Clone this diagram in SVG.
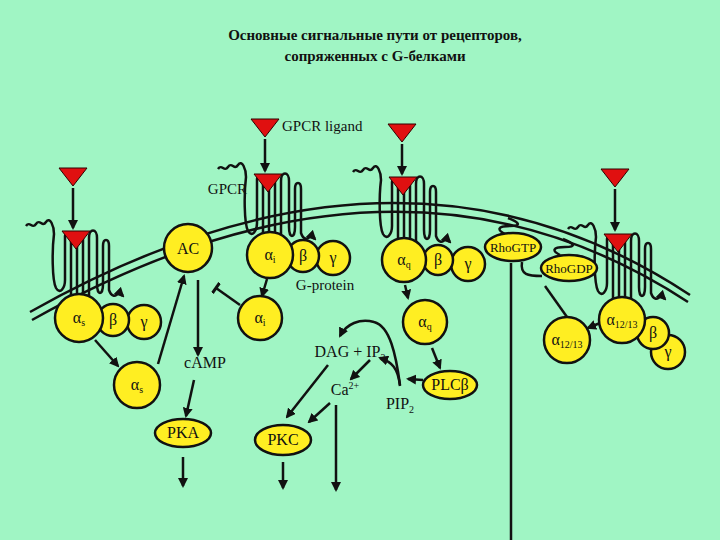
<svg xmlns="http://www.w3.org/2000/svg" width="720" height="540" viewBox="0 0 720 540" font-family="'Liberation Serif','Times New Roman',serif">
<style>
text{font-family:'Liberation Serif','Times New Roman',serif;fill:#111}
.t{font-size:15px;font-weight:bold}
.n{fill:#ffee22;stroke:#111;stroke-width:2.5}
.l{fill:none;stroke:#111;stroke-width:2.5}
.a{fill:none;stroke:#111;stroke-width:2.5;marker-end:url(#ah)}
.tri{fill:#e01010;stroke:#330000;stroke-width:1}
.lb{font-size:16px;text-anchor:middle}
.sb{font-size:10px}
</style>
<defs>
<marker id="ah" viewBox="0 0 10 10" refX="8" refY="5" markerWidth="4" markerHeight="4" orient="auto"><path d="M0,0L10,5L0,10z" fill="#111"/></marker>
<marker id="tb" viewBox="0 0 10 10" refX="5" refY="5" markerWidth="5" markerHeight="5" orient="auto"><path d="M5,0V10" stroke="#111" stroke-width="2.5"/></marker>
<polygon id="tri" class="tri" points="-14,-9 14,-9 0,9"/>
<g id="rec">
<path class="l" stroke-width="2.2" d="M-50,-14 c4,-6 6,4 10,-2 s6,4 10,-2 s8,4 8,12 C-24,10 -24,40 -20,48 C-16,55 -11,48 -11,40 V-4 A3,3 0 0 1 -5,-4 V58 M1,58 V-4 A3,3 0 0 1 7,-4 V58 M13,58 V-2 C13,-12 21,-12 21,-2 V44 C21,56 27,56 27,44 V6 C27,-2 33,-2 33,6 V50 c2,6 6,8 10,2 l4,4" marker-end="url(#ah)"/>
<use href="#tri"/>
</g>
</defs>
<rect width="720" height="540" fill="#a0f5c4"/>
<text class="t" x="375" y="40" text-anchor="middle">Основные сигнальные пути от рецепторов,</text>
<text class="t" x="375" y="61" text-anchor="middle">сопряженных с G-белками</text>

<g id="membrane">
<path class="l" d="M30,312 Q400,103 690,295"/>
<path class="l" d="M32,320 Q400,113 688,302"/>
</g>

<g id="receptors">
<use href="#tri" x="73" y="177"/>
<use href="#rec" x="76" y="240"/>
<use href="#tri" x="265" y="128"/>
<use href="#rec" x="268" y="183"/>
<use href="#tri" x="402" y="133"/>
<use href="#rec" x="403" y="186"/>
<use href="#tri" x="615" y="178"/>
<use href="#rec" x="618" y="243"/>
<text x="282" y="131" font-size="15">GPCR ligand</text>
<text x="247" y="194" font-size="15" text-anchor="end">GPCR</text>
</g>

<g id="connectors">
<path class="a" d="M73,188V228"/>
<path class="a" d="M265,139V171"/>
<path class="a" d="M402,144V174"/>
<path class="a" d="M615,189V230"/>
<path class="a" d="M95,340L118,366"/>
<path class="a" d="M158,364L184,276"/>
<path class="a" d="M198,280V355"/>
<path class="a" d="M194,380L186,416"/>
<path class="l" d="M240,305L216,288" marker-end="url(#tb)"/>
<path class="a" d="M267,279L262,296"/>
<path class="a" d="M405,285L408,298"/>
<path class="a" d="M432,348L440,368"/>
<path class="a" d="M423,380L408,379"/>
<path class="l" d="M400,386C398,368 392,362 380,358" marker-end="url(#ah)"/>
<path class="l" d="M400,385C396,355 390,326 374,322C360,318 346,324 340,336" marker-end="url(#ah)"/>
<path class="a" d="M328,365L287,417"/>
<path class="a" d="M370,360L351,379"/>
<path class="a" d="M330,403L309,422"/>
<path class="a" d="M336,405V490"/>
<path class="a" d="M183,457V486"/>
<path class="a" d="M283,462V488"/>
<path class="l" d="M511,263V540"/>
<path class="l" d="M567,317L545,286"/>
<path class="l" d="M522,262C520,275 528,276 542,276"/>
<path class="a" d="M600,323L588,328"/>
<path class="l" stroke-width="2" d="M505,234c-8,-4 -8,-8 5,-8s8,-4 -2,-8"/>
<path class="l" stroke-width="2" d="M560,255c-8,-4 -8,-8 5,-8s8,-4 -2,-8"/>
</g>

<g id="Gs"><circle class="n" cx="144" cy="322" r="17"/><circle class="n" cx="113" cy="320" r="16"/><circle class="n" cx="79" cy="318" r="24"/>
<text class="lb" x="79" y="323">α<tspan class="sb" dy="3">s</tspan></text><text class="lb" x="113" y="325">β</text><text class="lb" x="144" y="327">γ</text></g>
<g id="AC"><circle class="n" cx="188" cy="248" r="24"/><text class="lb" x="188" y="254">AC</text></g>
<g id="Gi"><circle class="n" cx="333" cy="258" r="17"/><circle class="n" cx="303" cy="256" r="16"/><circle class="n" cx="270" cy="255" r="23"/>
<text class="lb" x="270" y="260">α<tspan class="sb" dy="3">i</tspan></text><text class="lb" x="303" y="261">β</text><text class="lb" x="333" y="263">γ</text>
<text x="325" y="290" font-size="15" text-anchor="middle">G-protein</text></g>
<g id="ai"><circle class="n" cx="260" cy="318" r="22"/><text class="lb" x="260" y="323">α<tspan class="sb" dy="3">i</tspan></text></g>
<g id="Gq"><circle class="n" cx="468" cy="264" r="17"/><circle class="n" cx="438" cy="260" r="15"/><circle class="n" cx="404" cy="260" r="22"/>
<text class="lb" x="404" y="265">α<tspan class="sb" dy="3">q</tspan></text><text class="lb" x="438" y="265">β</text><text class="lb" x="468" y="269">γ</text></g>
<g id="aq"><circle class="n" cx="425" cy="322" r="22"/><text class="lb" x="425" y="327">α<tspan class="sb" dy="3">q</tspan></text></g>
<g id="RhoGTP"><ellipse class="n" cx="513" cy="247" rx="28" ry="14"/><text x="513" y="252" font-size="13" text-anchor="middle">RhoGTP</text></g>
<g id="RhoGDP"><ellipse class="n" cx="569" cy="268" rx="28" ry="13"/><text x="569" y="273" font-size="13" text-anchor="middle">RhoGDP</text></g>
<g id="G12"><circle class="n" cx="668" cy="352" r="17"/><circle class="n" cx="653" cy="333" r="16"/><circle class="n" cx="622" cy="320" r="23"/>
<text class="lb" x="622" y="325">α<tspan class="sb" dy="3">12/13</tspan></text><text class="lb" x="653" y="338">β</text><text class="lb" x="668" y="357">γ</text></g>
<g id="a12"><circle class="n" cx="567" cy="340" r="23"/><text class="lb" x="567" y="345">α<tspan class="sb" dy="3">12/13</tspan></text></g>
<g id="as"><circle class="n" cx="137" cy="385" r="23"/><text class="lb" x="137" y="390">α<tspan class="sb" dy="3">s</tspan></text></g>
<g id="cAMP"><text class="lb" x="205" y="368">cAMP</text></g>
<g id="PKA"><ellipse class="n" cx="183" cy="433" rx="28" ry="14"/><text class="lb" x="183" y="438">PKA</text></g>
<g id="PKC"><ellipse class="n" cx="283" cy="440" rx="28" ry="15"/><text class="lb" x="283" y="445">PKC</text></g>
<g id="DAG"><text class="lb" x="350" y="357">DAG + IP<tspan class="sb" dy="4">3</tspan></text></g>
<g id="Ca"><text class="lb" x="345" y="395">Ca<tspan class="sb" dy="-6">2+</tspan></text></g>
<g id="PIP2"><text class="lb" x="400" y="409">PIP<tspan class="sb" dy="4">2</tspan></text></g>
<g id="PLC"><ellipse class="n" cx="450" cy="385" rx="27" ry="14"/><text class="lb" x="450" y="390">PLCβ</text></g>
</svg>
